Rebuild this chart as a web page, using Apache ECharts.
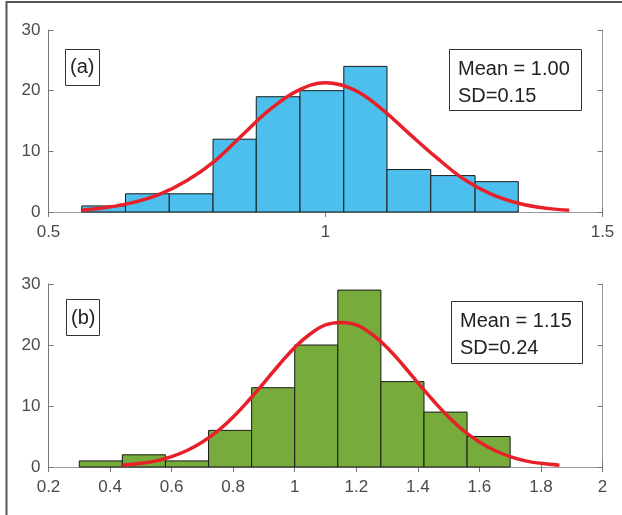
<!DOCTYPE html>
<html><head><meta charset="utf-8">
<script src="https://cdn.jsdelivr.net/npm/echarts@6/dist/echarts.min.js"></script>
<style>html,body{margin:0;padding:0;background:#fff}#c{width:622px;height:515px}</style>
</head><body><div id="c"></div>
<script>
// Panel (a)
const edgesA = [0.56, 0.639, 0.718, 0.797, 0.875, 0.954, 1.033, 1.111, 1.190, 1.270, 1.348];
const countsA = [1, 3, 3, 12, 19, 20, 24, 7, 6, 5];
const curveAx = [0.56, 0.60, 0.65, 0.70, 0.75, 0.80, 0.85, 0.90, 0.95, 1.00, 1.05, 1.10, 1.15, 1.20, 1.25, 1.30, 1.35, 1.40, 1.44];
const curveAy = [0.3, 0.7, 1.5, 2.9, 5.2, 8.4, 12.7, 16.9, 20.0, 21.3, 20.2, 17.1, 13.0, 9.0, 5.4, 2.9, 1.4, 0.6, 0.3];
const ticksA = [0.5, 1, 1.5];
const labelA = '(a)';
const statsA = ['Mean = 1.00', 'SD=0.15'];
// Panel (b)
const edgesB = [0.30, 0.44, 0.58, 0.72, 0.86, 1.00, 1.14, 1.28, 1.42, 1.56, 1.70];
const countsB = [1, 2, 1, 6, 13, 20, 29, 14, 9, 5];
const curveBx = [0.44, 0.50, 0.55, 0.60, 0.65, 0.70, 0.75, 0.80, 0.85, 0.90, 0.95, 1.00, 1.05, 1.10, 1.15, 1.20, 1.25, 1.30, 1.35, 1.40, 1.45, 1.50, 1.55, 1.60, 1.65, 1.70, 1.75, 1.80, 1.86];
const curveBy = [0.3, 0.6, 1.0, 1.7, 2.7, 4.1, 5.9, 8.2, 10.9, 13.8, 16.8, 19.6, 21.8, 23.3, 23.7, 23.3, 21.8, 19.6, 16.8, 13.8, 10.9, 8.2, 5.9, 4.1, 2.7, 1.7, 1.0, 0.6, 0.3];
const ticksB = [0.2, 0.4, 0.6, 0.8, 1, 1.2, 1.4, 1.6, 1.8, 2];
const labelB = '(b)';
const statsB = ['Mean = 1.15', 'SD=0.24'];
const yTicks = [0, 10, 20, 30];

const FONT = '"Liberation Sans", Helvetica, Arial, sans-serif';
const LBL = '#4a4a4a';

function bins(edges, counts) {
  return counts.map((c, i) => [edges[i], edges[i + 1], c]);
}

function histSeries(idx, data, color) {
  return {
    type: 'custom', xAxisIndex: idx * 2, yAxisIndex: idx * 2,
    data: data, z: 2,
    encode: {x: [0, 1], y: 2},
    renderItem: function (params, api) {
      const p0 = api.coord([api.value(0), api.value(2)]);
      const p1 = api.coord([api.value(1), 0]);
      return {
        type: 'rect',
        shape: {x: p0[0], y: p0[1], width: p1[0] - p0[0], height: p1[1] - p0[1]},
        style: {fill: color, stroke: '#1a1a1a', lineWidth: 1}
      };
    }
  };
}

function curveSeries(idx, xs, ys) {
  return {
    type: 'line', xAxisIndex: idx * 2, yAxisIndex: idx * 2, z: 5,
    data: xs.map((x, i) => [x, ys[i]]), smooth: 0.4, showSymbol: false,
    lineStyle: {color: '#E8202A', width: 3.5}
  };
}

function xAxes(idx, ticks) {
  const common = {
    type: 'value', gridIndex: idx, min: ticks[0], max: ticks[ticks.length - 1],
    interval: ticks[1] - ticks[0], splitLine: {show: false}
  };
  return [
    Object.assign({}, common, {
      position: 'bottom',
      axisLine: {lineStyle: {color: '#555', width: 1}},
      axisTick: {inside: true, length: 5, lineStyle: {color: '#777'}},
      axisLabel: {color: LBL, fontSize: 17, fontFamily: FONT, margin: 12}
    }),
    Object.assign({}, common, {
      position: 'top',
      axisLine: {lineStyle: {color: '#999', width: 1}},
      axisTick: {inside: true, length: 5, lineStyle: {color: '#777'}},
      axisLabel: {show: false}
    })
  ];
}

function yAxes(idx) {
  const common = {
    type: 'value', gridIndex: idx, min: yTicks[0], max: yTicks[yTicks.length - 1],
    interval: yTicks[1] - yTicks[0], splitLine: {show: false}
  };
  return [
    Object.assign({}, common, {
      position: 'left',
      axisLine: {show: true, lineStyle: {color: '#777', width: 1}},
      axisTick: {show: true, inside: true, length: 5, lineStyle: {color: '#777'}},
      axisLabel: {color: LBL, fontSize: 17, fontFamily: FONT, margin: 8}
    }),
    Object.assign({}, common, {
      position: 'right',
      axisLine: {show: true, lineStyle: {color: '#999', width: 1}},
      axisTick: {show: true, inside: true, length: 5, lineStyle: {color: '#777'}},
      axisLabel: {show: false}
    })
  ];
}

function boxText(x, y, w, h, lines, tx, ty0, dy) {
  const els = [{
    type: 'rect', shape: {x: x, y: y, width: w, height: h},
    style: {fill: '#fff', stroke: '#333', lineWidth: 1}, z: 10
  }];
  lines.forEach((t, i) => {
    els.push({
      type: 'text', x: tx, y: ty0 + i * dy, z: 11,
      style: {text: t, fill: '#222', font: '20px ' + FONT, textVerticalAlign: 'middle', verticalAlign: 'middle'}
    });
  });
  return els;
}

const chart = echarts.init(document.getElementById('c'), null, {renderer: 'canvas'});
chart.setOption({
  animation: false,
  backgroundColor: '#fff',
  grid: [
    {left: 48.5, right: 19.5, top: 30, height: 182},
    {left: 48.5, right: 19.5, top: 284, height: 183}
  ],
  xAxis: xAxes(0, ticksA).concat(xAxes(1, ticksB)),
  yAxis: yAxes(0).concat(yAxes(1)),
  series: [
    histSeries(0, bins(edgesA, countsA), '#4CBFEC'),
    curveSeries(0, curveAx, curveAy),
    histSeries(1, bins(edgesB, countsB), '#77AC3C'),
    curveSeries(1, curveBx, curveBy)
  ],
  graphic: [
    {type: 'line', shape: {x1: 6, y1: 2, x2: 622, y2: 2}, style: {stroke: '#555', lineWidth: 2}},
    {type: 'line', shape: {x1: 6.5, y1: 1, x2: 6.5, y2: 515}, style: {stroke: '#555', lineWidth: 2}}
  ]
    .concat(boxText(65.5, 49.5, 34, 36, [labelA], 70, 67.5, 0))
    .concat(boxText(449.5, 49.5, 132, 61, statsA, 458, 69.5, 27))
    .concat(boxText(66.5, 299.5, 33, 36, [labelB], 71, 318, 0))
    .concat(boxText(451.5, 301.5, 131, 62, statsB, 460, 321, 27))
});
</script>
</body></html>
